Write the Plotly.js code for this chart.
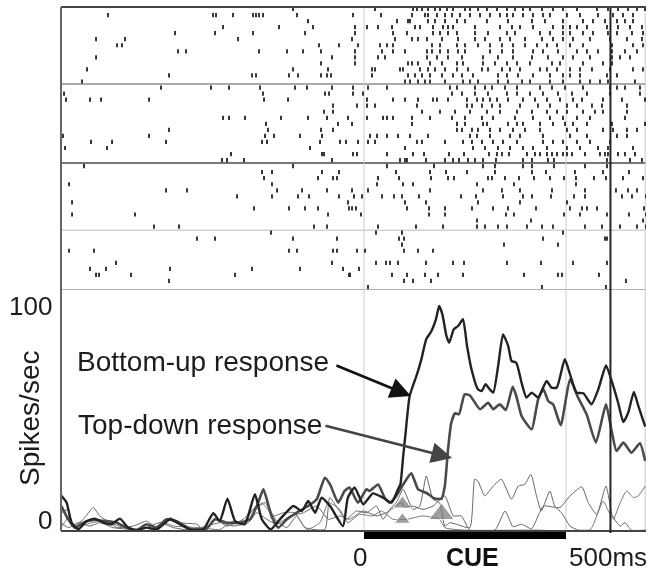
<!DOCTYPE html>
<html>
<head>
<meta charset="utf-8">
<script src="https://cdn.plot.ly/plotly-3.0.1.min.js"></script>
<style>html,body{margin:0;padding:0;background:#fff}#chart{width:652px;height:571px;filter:blur(0.45px)}</style>
</head>
<body>
<div id="chart"></div>
<script>
// Spike raster: one list per trial, in raster columns relative to cue onset (1 column = msPerColumn ms)
const msPerColumn = 2.475;
const rasterTrials = [
[-71,11,49,53,58,64,71,76,83,89,101,106,114,123,133,143,151,159,166,178,189,199,213,233,244,254,264,273,281],
[-256,-151,-148,-131,-111,-108,-105,-101,-67,-11,17,48,61,64,73,81,88,96,106,116,126,136,143,149,159,169,179,186,203,216,234,249,259,269],
[-56,33,44,46,64,71,81,93,101,123,144,168,181,199,219,229,241,253,261,269],
[-141,-85,-51,-9,3,14,28,51,56,69,79,84,89,111,136,148,156,169,189,199,206,213,223,243,254,266,278],
[-189,-149,-111,-59,-9,29,43,69,76,84,93,111,124,143,151,176,186,199,206,219,229,244,253,268,279],
[-268,-239,-126,-12,31,48,54,63,78,94,111,121,136,146,161,178,189,199,209,226,246,263,278],
[-247,-242,-45,-25,-6,16,23,29,68,76,93,101,114,126,138,149,161,173,183,193,206,219,248,269,279],
[-186,-178,-105,-77,-61,-43,-9,18,29,41,63,68,76,84,94,101,126,138,149,169,179,194,213,223,234,248,261,273],
[-268,-32,-9,14,21,63,73,84,98,119,134,149,168,184,199,209,226,248,256,266],
[-43,-9,44,48,54,66,78,93,99,119,131,143,153,166,188,196,219,239,248],
[-277,-71,-36,8,11,36,39,56,64,71,81,93,104,118,124,138,146,156,176,183,193,206,216,228,246,269,279],
[-195,-112,-108,-75,-66,-43,-37,-33,8,44,51,58,66,78,89,98,109,134,143,154,169,186,199,206,216,243,253],
[-282,41,46,54,61,66,81,99,106,114,134,144,158,166,186,199,216,226,236,244,271],
[-203,-153,-135,-104,-69,-57,-32,-11,4,23,86,93,111,121,128,141,153,176,188,201,219,246,253,261,276],
[-300,-101,-39,-35,-11,-1,88,98,111,124,143,153,166,179,194,208,223,246,276],
[-298,-274,-263,-215,-100,-76,3,29,41,54,69,73,84,103,113,119,126,133,144,159,171,183,196,209,218,239,258,281],
[-31,-7,3,11,53,103,108,118,128,136,156,174,186,203,213,228,238,263],
[-40,-31,58,76,91,106,123,136,153,168,183,193,203,219,231,239,263],
[-141,-135,-119,-83,-56,-37,-16,3,19,23,29,48,66,88,101,118,129,151,169,186,199,213,226,261],
[-98,-26,-12,48,93,101,119,123,144,153,159,176,189,201,209,223,248,281],
[-195,-96,-43,-31,93,98,108,114,126,136,149,161,176,203,213,239,249,263,273],
[-301,-215,-99,-90,-64,-42,6,13,23,34,46,64,106,113,126,146,156,179,206,223,253,263],
[-273,-252,-198,-102,-97,-44,-24,-18,-6,4,11,53,58,81,99,108,118,129,139,153,179,189,199,213,226,246],
[-299,-257,-54,41,109,121,134,146,159,169,183,203,216,234,244,269],
[-133,-42,-40,-11,-7,23,49,60,85,100,125,133,138,145,163,171,176,183,188,193,199,203,208,221,236,241,244,254,261,271],
[-142,-137,-120,-32,36,41,43,62,81,89,95,104,111,119,132,159,168,184,190,243,266,278],
[-280,-71,23,70,119,131,159,168,190,221,243],
[-102,-92,-42,-25,32,66,82,103,131,168,182,211,239,265],
[-100,-46,-31,-27,14,35,67,84,90,124,128,141,155,170,186,200,212,230,242,259,279],
[-295,-92,13,39,49,113,150,212],
[-198,-177,-87,-62,-37,-12,4,66,119,138,156,188,221,252,264,273],
[-127,-92,-66,-55,-25,-10,-2,18,30,38,55,97,112,139,159,168,187,210,221,258,268,282],
[-292,-16,41,62,114,156,203],
[-110,-75,-59,-46,-15,-12,-8,43,65,81,108,129,144,172,206,218,223,233,280],
[-292,-229,-36,-3,65,81,142,150,200,216,243,265,282],
[113,167,279],
[-210,-185,-50,-37,14,52,79,113,121,134,143,163,178,189,221,238,256,273,282],
[-93,12,38,199],
[-167,-149,-71,-27,35,40,179,241,243],
[38,140,194],
[-295,-270,-75,-67,-31,-27,-7,1,40,54,69],
[],
[-248,-32,12,22,26,34,62,89,100,143,177,209,243],
[-274,-258,-194,-112,-64,-21,-5],
[-268,-265,-233,-129,-15,-14,28,43,61,74,99,160,194,198,235],
[-195,40,49,67,262],
[4,178,242]
];
const rasterSeparators = [12.4, 25.5, 36.6, 46.5];

// Firing rates (spikes/sec) against time from cue onset (ms)
const bottomUpT = [-749,-736,-724,-707,-687,-666,-645,-625,-604,-584,-563,-538,-513,-480,-456,-427,-398,-373,-357,-338,-319,-295,-270,-253,-231,-208,-175,-154,-138,-121,-105,-84,-52,-40,-23,-2,22,47,68,84,90,97,103,113,131,142,154,167,178,186,194,204,211,222,233,245,255,266,282,291,301,311,320,332,344,357,365,377,390,402,415,431,452,464,477,497,510,526,543,563,580,599,613,629,642,654,668,679,696];
const bottomUpY = [15.6,12.6,3.7,0.7,4.4,5.5,3.7,3,5.5,1.5,0.4,1.5,0.7,5.2,3,0.4,0.7,7.9,4.4,14.4,4.4,3,16.3,5.2,0.7,5.2,11.1,8.9,13.3,8.1,14.8,11.1,2.2,14.8,19.3,11.9,16.7,14.8,12.6,18.5,20.7,33.3,43.7,60,69.6,76.3,85.2,88.9,94.1,100,96.3,86.7,83.7,89.6,91.1,94.1,82.2,71.9,63,62.2,65.2,63,61.5,73.3,87.4,82.2,75.6,74.8,65.9,59.3,61.5,59.3,66.7,63.7,63.7,76.3,69.6,61.5,61.2,56.3,63,73.6,66.7,57,48.4,52.6,61.8,55.6,46.4];
const topDownT = [-749,-732,-716,-695,-670,-637,-612,-588,-563,-538,-513,-489,-464,-431,-390,-369,-340,-307,-282,-262,-249,-229,-212,-191,-167,-138,-117,-97,-84,-64,-48,-36,-15,6,14,35,51,64,80,97,117,134,154,175,192,200,208,216,225,235,249,262,287,307,320,336,351,368,377,390,415,431,444,456,468,487,510,530,551,574,599,613,625,642,662,683,696];
const topDownY = [11.1,5.2,1.5,3.7,4.9,4.4,3.7,1.5,0.4,3,1.5,5.2,4.4,1,1,5.2,3.7,3.7,5.2,12.6,18.5,6.7,1.5,5.2,8.1,11.1,14.1,23.7,20.7,12.6,17.8,19.3,12.6,18.5,17.8,20.7,14.8,12.6,15.6,20.7,25.6,18.5,17,14.4,14.4,20,36.3,48.1,52.3,51.9,60.7,60.3,54.1,57,54.1,56.3,53.8,64.1,60,51.1,45.2,58.5,63,57.8,56.3,47,67.4,59.3,51.9,39.3,56.3,44.4,35.6,39.3,34.8,39,31.1];
const thinAT = [-749,-732,-720,-695,-670,-654,-629,-612,-571,-538,-513,-480,-456,-414,-398,-365,-340,-299,-266,-245,-216,-191,-167,-146,-97,-85,-69,-44,-19,6,31,47,64,80,97,121,138,154,171,187,200,212,229,262,274,282,299,320,340,365,382,398,413,427,439,460,472,489,510,530,560];
const thinAY = [8.1,9.6,2.2,5.2,10.4,6.7,3.7,1.5,2.2,4.4,1.5,5.9,3.7,3,0.7,5.2,2.2,5.2,11.1,12.6,4.4,1.5,6.7,1.5,0.7,14.8,11.1,5.2,8.9,8.1,11.1,5.2,9.6,12.6,18.5,9.6,11.1,24.4,14.1,12.6,2.2,3.7,3,1.5,23,22.2,15.6,20,23,14.1,20,20.7,25.2,15.6,8.9,17.8,11.1,8.1,2.2,0.4,0.4];
const thinBT = [-749,-732,-707,-678,-654,-621,-571,-538,-505,-472,-431,-390,-357,-324,-286,-266,-241,-216,-183,-150,-117,-88,-60,-36,-2,31,55,93,101,121,146,171,200,221,241,262,324,349,369,390,415,431,444,485,510,539,555,576,599,615,634,646,662,696];
const thinBY = [3.7,1.5,3.7,2.2,3.7,1.5,0.7,1.5,3.7,1.5,0.4,2.2,3.7,2.2,3.7,8.1,5.2,3,6.7,8.1,11.1,5.2,6.7,5.2,8.9,6.7,8.1,12.6,10.4,11.1,9.6,11.1,15.6,6.7,6.7,0.4,0.4,8.9,1.9,3,1,6.7,11.1,10.4,15.6,19.7,12.6,7.4,20,6.7,2.2,3.7,0.4,0.4];
const thinCT = [-749,-729,-716,-687,-654,-621,-571,-530,-497,-472,-406,-357,-324,-299,-274,-249,-225,-200,-171,-142,-109,-88,-60,-40,-11,22,43,72,105,146,187,200,245,427,559,576,592,607,617,634,650,667,679,696];
const thinCY = [1.5,6.7,1.5,3,4.4,3,0.4,0.4,3.7,2.2,1.5,0.7,4.4,3.7,9.6,11.9,6.7,8.1,8.1,0.7,3.7,12.6,9.6,3.7,7.4,6.7,8.9,5.2,5.2,6.7,5.2,1.5,0.4,0.4,0.4,6.7,13.3,8.1,5.2,12.6,17.8,14.8,15.6,20];

const latencyT = [95, 95, 192];
const latencyY = [12, 5, 7.5];
const latencySizes = [16, 14, 22];

const cueT = [0, 500];
const cueY = [-2, -2];
const baselineT = [-750, 698];
const baselineY = [0, 0];
const blackLineT = 610;
const refLinesT = [0, 500, 696];
const labels = {bottomUp:'Bottom-up response', topDown:'Top-down response', cue:'CUE', yTitle:'Spikes/sec', end:'500ms'};

// Raster trace
const rasterX = [], rasterY = [];
rasterTrials.forEach((list, k) => list.forEach(c => { rasterX.push(c * msPerColumn); rasterY.push(k); }));

const line = (x, y, c, w, extra) => ({x, y, xaxis:'x', yaxis:'y', mode:'lines', hoverinfo:'skip', showlegend:false,
  line:Object.assign({color:c, width:w}, extra||{})});
const curve = {shape:'spline', smoothing:0.5};

const traces = [
  {x:rasterX, y:rasterY, xaxis:'x', yaxis:'y2', mode:'markers', hoverinfo:'skip', showlegend:false,
   marker:{symbol:'line-ns', size:3, color:'#222', line:{width:1.8, color:'#222'}}},
  line(thinAT, thinAY, '#666', 1, curve),
  line(thinBT, thinBY, '#666', 1, curve),
  line(thinCT, thinCY, '#777', 1, curve),
  line(topDownT, topDownY, '#4a4a4a', 2.6, curve),
  line(bottomUpT, bottomUpY, '#222', 2.4, curve),
  line(baselineT, baselineY, '#444', 2),
  {x:latencyT, y:latencyY, xaxis:'x', yaxis:'y', mode:'markers', hoverinfo:'skip', showlegend:false,
   marker:{symbol:'triangle-up', size:latencySizes, color:'#777'}},
  line(cueT, cueY, '#000', 7)
];

const sepColors = ['#aaa','#777','#bbb','#999'];
const sepWidths = [2,2,1,1.5];
const shapes = [];
rasterSeparators.forEach((s,i) => shapes.push({type:'line', xref:'paper', x0:0, x1:1, yref:'y2', y0:s, y1:s,
  line:{color:sepColors[i], width:sepWidths[i]}, layer:'below'}));
refLinesT.forEach(t => shapes.push({type:'line', xref:'x', x0:t, x1:t, yref:'paper', y0:0.0169, y1:1,
  line:{color:'#ccc', width:1}, layer:'below'}));
shapes.push({type:'line', xref:'x', x0:blackLineT, x1:blackLineT, yref:'paper', y0:0.0131, y1:1, line:{color:'#222', width:2}});
shapes.push({type:'line', xref:'paper', x0:0, x1:1, yref:'paper', y0:1, y1:1, line:{color:'#444', width:2}});
shapes.push({type:'line', xref:'paper', x0:0, x1:0, yref:'paper', y0:0.0169, y1:1, line:{color:'#666', width:2}});

const font = {family:'"Liberation Sans", Arial, sans-serif', size:26, color:'#1c1c1c'};
const bigFont = Object.assign({}, font, {size:28});
const txt = (text, x, y, xanchor, extra) => Object.assign({text, xref:'paper', yref:'paper', x, y, xanchor, yanchor:'middle', showarrow:false, font, borderpad:0}, extra||{});
const arrow = (t, y, at, ay, c) => ({text:'', x:t, y, ax:at, ay, xref:'x', yref:'y', axref:'x', ayref:'y', showarrow:true,
  arrowhead:2, arrowsize:1.6, arrowwidth:2.6, arrowcolor:c, standoff:0});

const layout = {
  width:652, height:571, paper_bgcolor:'#fff', plot_bgcolor:'#fff', showlegend:false,
  margin:{l:61, r:6, t:7, b:31, pad:0},
  xaxis:{range:[-750,698], domain:[0,1], anchor:'y', showgrid:false, zeroline:false, showticklabels:false, ticks:'', showline:false},
  yaxis:{range:[-4,107.1], domain:[0,0.469], anchor:'x', showgrid:false, zeroline:false, showticklabels:false, ticks:'', showline:false},
  yaxis2:{range:[46.5,-0.33], domain:[0.469,1], anchor:'x', showgrid:false, zeroline:false, showticklabels:false, ticks:'', showline:false},
  shapes,
  annotations:[
    txt('100', -0.0137, 0.439, 'right'),
    txt('0', -0.0137, 0.0375, 'right'),
    txt(labels.yTitle, -0.053, 0.229, 'center', {textangle:-90, font:bigFont}),
    txt(labels.bottomUp, 0.026, 0.334, 'left', {font:bigFont}),
    txt(labels.topDown, 0.027, 0.2158, 'left', {font:bigFont}),
    txt('0', 0.511, -0.031, 'center'),
    txt('<b>'+labels.cue+'</b>', 0.703, -0.031, 'center', {font:Object.assign({}, font, {size:25, color:'#111'})}),
    txt(labels.end, 1.004, -0.031, 'right'),
    arrow(116, 60, -72, 73.8, '#111'),
    arrow(218, 32.4, -99, 47, '#444')
  ]
};
Plotly.newPlot('chart', traces, layout, {displayModeBar:false, staticPlot:true});
</script>
</body>
</html>
